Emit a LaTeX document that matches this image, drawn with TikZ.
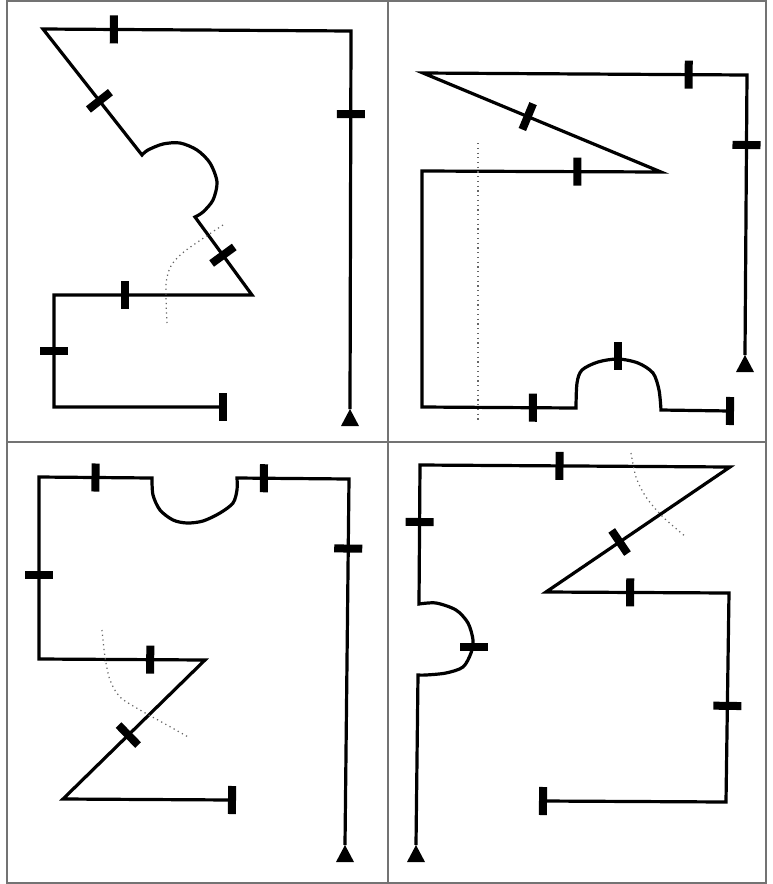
\documentclass[tikz,border=0pt]{standalone}
\usetikzlibrary{calc}

\begin{document}
\begin{tikzpicture}[
        x=0.01cm, y=-0.01cm,
        wire/.style={line width=0.032cm, line join=miter},
        tickbar/.style={rectangle, fill=black, inner sep=0pt, minimum width=0.08cm, minimum height=0.28cm},
        frameline/.style={draw=black!55, line width=0.3pt},
        guide/.style={black!60, densely dotted, line width=0.35pt}
    ]
        \useasboundingbox (0,0) rectangle (773,884);

        % panel frame
        \draw[frameline] (7,1) rectangle (766,883);
        \draw[frameline] (388,1) -- (388,883);
        \draw[frameline] (7,442) -- (766,442);

        % top left panel
        \coordinate (A0) at (350,409);
        \coordinate (A1) at (351,31);
        \coordinate (A2) at (43,29);
        \coordinate (A3) at (142,155);
        \coordinate (A4) at (195,217);
        \coordinate (A5) at (252,295);
        \coordinate (A6) at (54,295);
        \coordinate (A7) at (54,407);
        \coordinate (A8) at (223,407);
        \draw[wire] (A0) -- (A1) node[tickbar, pos=.78, sloped]{}
            -- (A2) node[tickbar, pos=.77, sloped]{}
            -- (A3) node[tickbar, pos=.57, sloped]{}
            -- plot[smooth] coordinates {(A3) (148,150) (163,144) (180,143) (197,150) (210,163) (217,182) (213,200) (203,212) (A4)}
            -- (A5) node[tickbar, pos=.49, sloped]{}
            -- (A6) node[tickbar, pos=.64, sloped]{}
            -- (A7) node[tickbar, pos=.5, sloped]{}
            -- (A8) node[tickbar, pos=1, sloped]{};
        \draw[guide] plot[smooth] coordinates {(223,225) (185,251) (171,266) (166,285) (167,323)};

        % top right panel
        \coordinate (B0) at (745,355);
        \coordinate (B1) at (747,75);
        \coordinate (B2) at (423,73);
        \coordinate (B3) at (661,172);
        \coordinate (B4) at (422,171);
        \coordinate (B5) at (422,407);
        \coordinate (B6) at (576,408);
        \coordinate (B7) at (661,410);
        \coordinate (B8) at (730,411);
        \draw[wire] (B0) -- (B1) node[tickbar, pos=.75, sloped]{}
            -- (B2) node[tickbar, pos=.18, sloped]{}
            -- (B3) node[tickbar, pos=.44, sloped]{}
            -- (B4) node[tickbar, pos=.35, sloped]{}
            -- (B5)
            -- (B6) node[tickbar, pos=.72, sloped]{}
            -- plot[smooth] coordinates {(B6) (577,383) (582,370) (598,362) (618,359) (638,363) (653,373) (659,390) (B7)}
            -- (B8) node[tickbar, pos=1, sloped]{};
        \node[tickbar] (Btop) at (618,356) {};
        \draw[guide] (478,143) -- (478,421);

        % bottom left panel
        \coordinate (C0) at (345,845);
        \coordinate (C1) at (349,479);
        \coordinate (C2) at (237,478);
        \coordinate (C3) at (152,478);
        \coordinate (C4) at (39,477);
        \coordinate (C5) at (39,659);
        \coordinate (C6) at (205,660);
        \coordinate (C7) at (63,799);
        \coordinate (C8) at (232,800);
        \draw[wire] (C0) -- (C1) node[tickbar, pos=.81, sloped]{}
            -- (C2) node[tickbar, pos=.76, sloped]{}
            -- plot[smooth] coordinates {(C2) (237,490) (233,503) (220,513) (203,521) (187,523) (173,520) (160,510) (153,495) (C3)}
            -- (C4) node[tickbar, pos=.5, sloped]{}
            -- (C5) node[tickbar, pos=.54, sloped]{}
            -- (C6) node[tickbar, pos=.67, sloped]{}
            -- (C7) node[tickbar, pos=.54, sloped]{}
            -- (C8) node[tickbar, pos=1, sloped]{};
        \draw[guide] plot[smooth] coordinates {(102,630) (105,657) (110,680) (120,697) (140,710) (167,725) (190,738)};

        % bottom right panel
        \coordinate (D0) at (416,845);
        \coordinate (D1) at (418,675);
        \coordinate (D2) at (419,604);
        \coordinate (D3) at (420,465);
        \coordinate (D4) at (730,467);
        \coordinate (D5) at (546,592);
        \coordinate (D6) at (729,593);
        \coordinate (D7) at (726,802);
        \coordinate (D8) at (543,801);
        \draw[wire] (D0) -- (D1)
            -- plot[smooth] coordinates {(D1) (426,675) (446,673) (463,667) (471,653) (473,640) (468,623) (456,610) (436,603) (D2)}
            -- (D3) node[tickbar, pos=.59, sloped]{}
            -- (D4) node[tickbar, pos=.45, sloped]{}
            -- (D5) node[tickbar, pos=.6, sloped]{}
            -- (D6) node[tickbar, pos=.46, sloped]{}
            -- (D7) node[tickbar, pos=.54, sloped]{}
            -- (D8) node[tickbar, pos=1, sloped]{};
        \node[tickbar, rotate=90] (Dside) at (474,647) {};
        \draw[guide] plot[smooth] coordinates {(631,453) (636,477) (646,497) (663,517) (686,537)};

        % start marks
        \foreach \s in {A0,B0,C0,D0}
            \fill (\s) -- ++(-9,17) -- ++(18,0) -- cycle;
    \end{tikzpicture}
\end{document}
